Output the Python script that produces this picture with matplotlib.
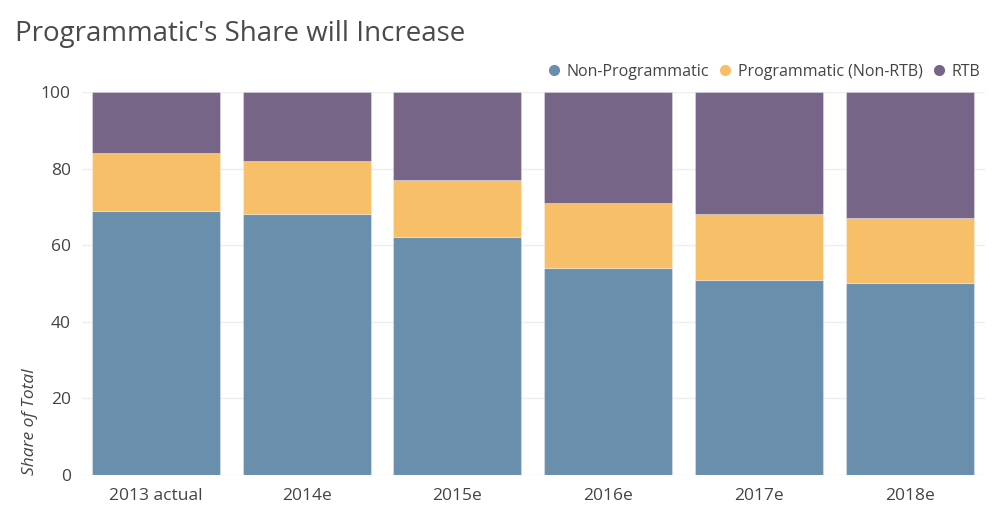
import numpy as np
import matplotlib.pyplot as plt
from matplotlib.lines import Line2D

plt.rcParams['font.family'] = ['Open Sans', 'DejaVu Sans']

categories = ['2013 actual', '2014e', '2015e', '2016e', '2017e', '2018e']
non_prog = [69, 68, 62, 54, 51, 50]
prog_non_rtb = [15, 14, 15, 17, 17, 17]
rtb = [16, 18, 23, 29, 32, 33]

series = ['Non-Programmatic', 'Programmatic (Non-RTB)', 'RTB']
colors = ['#6a8fad', '#f8bf69', '#766587']

fig = plt.figure(figsize=(10, 5.22), dpi=100)
ax = fig.add_axes([0.082, 0.090, 0.903, 0.734])

x = np.arange(len(categories))
bottom = np.zeros(len(categories))
for vals, col in zip([non_prog, prog_non_rtb, rtb], colors):
    ax.bar(x, vals, width=0.85, bottom=bottom, color=col,
           edgecolor=(1, 1, 1, 0.3), linewidth=0.8, zorder=2)
    bottom += np.array(vals)

ax.set_xlim(-0.49, 5.5)
ax.set_ylim(0, 100)
ax.set_yticks([0, 20, 40, 60, 80, 100])
ax.set_xticks(x)
ax.set_xticklabels(categories)
ax.tick_params(length=0, labelsize=12.5, labelcolor='#444444', pad=9)
ax.tick_params(axis='y', pad=8)
ax.grid(axis='y', color='#eeeeee', linewidth=1, zorder=0)
for s in ax.spines.values():
    s.set_visible(False)

fig.text(0.015, 0.935, "Programmatic's Share will Increase", fontsize=20,
         color='#4a4a4a', va='center', ha='left')
fig.text(0.030, 0.090, 'Share of Total', rotation=90, style='italic',
         fontsize=12.5, color='#444444', va='bottom', ha='center')

handles = [Line2D([], [], marker='o', linestyle='', markersize=7,
                  markerfacecolor=c, markeredgecolor=c) for c in colors]
fig.legend(handles, series, loc='center right', bbox_to_anchor=(0.995, 0.862),
           ncol=3, frameon=False, fontsize=11.5, handletextpad=0.3,
           columnspacing=0.5, labelcolor='#444444', handlelength=1.0)

fig.savefig('out.png', dpi=100)
